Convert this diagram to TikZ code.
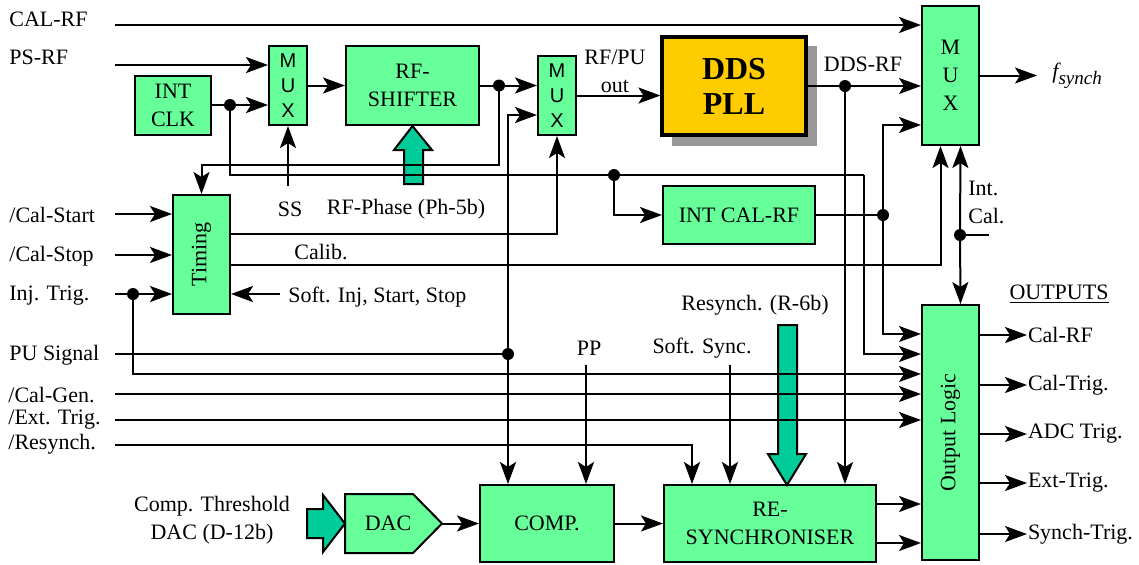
\documentclass[tikz,border=0pt]{standalone}
\usepackage{fontspec}
\setmainfont{Liberation Serif}
\setsansfont{Liberation Sans}
\usetikzlibrary{arrows.meta,calc}
\definecolor{boxgreen}{RGB}{102,255,153}
\definecolor{arrowgreen}{RGB}{0,204,153}
\definecolor{ddsgold}{RGB}{255,204,0}
\definecolor{shadowgrey}{RGB}{153,153,153}
\tikzset{
  blk/.style={draw, fill=boxgreen, line width=1pt, align=center, inner sep=0pt,
    font=\fontsize{11}{14}\selectfont},
  muxbox/.style={blk, minimum width=19pt, minimum height=39.5pt,
    font=\sffamily\fontsize{10}{12.5}\selectfont},
  sig/.style={line width=1pt, -{Stealth[length=11pt,width=8pt,inset=2.5pt]}},
  wire/.style={line width=1pt},
  dot/.style={circle, fill, inner sep=0pt, minimum size=6pt},
  lbl/.style={inner sep=0pt, align=center, font=\fontsize{11}{14}\selectfont},
  fatarrow/.style={draw, fill=arrowgreen, line width=1pt},
}
\begin{document}
\begin{tikzpicture}[x=0.5pt,y=-0.5pt]
\useasboundingbox (0,0) rectangle (1139,564);
% blocks
\fill[shadowgrey] (672,46) rectangle (817,146);
\node[blk, minimum width=38pt, minimum height=29.5pt] (intclk) at (173,105) {INT\\CLK};
\node[muxbox] (muxa) at (288,85.5) {M\\U\\X};
\node[blk, minimum width=66.5pt, minimum height=39.5pt] (shifter) at (412.5,85.5) {RF-\\SHIFTER};
\node[muxbox] (muxb) at (557,95.5) {M\\U\\X};
\node[draw, fill=ddsgold, line width=1.6pt, minimum width=72pt, minimum height=49pt,
  align=center, inner sep=0pt, font=\bfseries\fontsize{16}{17.5}\selectfont] (dds) at (734,86) {DDS\\PLL};
\node[blk, minimum width=28.5pt, minimum height=69.5pt] (muxc) at (950.5,75.5) {M\\U\\X};
\node[blk, minimum width=28.5pt, minimum height=59.5pt] (timing) at (201.5,254.5) {};
\node[lbl, rotate=90] (timinglbl) at (timing) {Timing};
\node[blk, minimum width=76pt, minimum height=29pt] (intcal) at (739,215) {INT CAL-RF};
\node[blk, minimum width=28.5pt, minimum height=127.5pt] (outlog) at (950.5,432.5) {};
\node[lbl, rotate=90] (outloglbl) at (outlog) {Output Logic};
\coordinate (dacin) at (345,523.5);
\coordinate (dacout) at (442,523.5);
\draw[blk] (dacin |- 0,494) -- (413,494) -- (dacout) -- (413,553) -- (dacin |- 0,553) -- cycle;
\node[lbl] (dac) at (388,523.5) {DAC};
\node[blk, minimum width=67pt, minimum height=38.5pt] (comp) at (547,523.5) {COMP.};
\node[blk, minimum width=106pt, minimum height=38.5pt] (resync) at (770,523.5) {RE-\\SYNCHRONISER};
% labels
\node[lbl, anchor=west] (calrf) at (9,19) {CAL-RF};
\node[lbl, anchor=west] (psrf) at (9,57) {PS-RF};
\node[lbl, anchor=west] (calstart) at (9,215) {/Cal-Start};
\node[lbl, anchor=west] (calstop) at (9,256) {/Cal-Stop};
\node[lbl, anchor=west] (injtrig) at (9,296) {Inj. Trig.};
\node[lbl, anchor=west] (pusig) at (9,355) {PU Signal};
\node[lbl, anchor=west] (calgen) at (8,395) {/Cal-Gen.};
\node[lbl, anchor=west] (exttrig) at (8,420) {/Ext. Trig.};
\node[lbl, anchor=west] (resynch) at (8,444) {/Resynch.};
\node[lbl] (thresh) at (212,520) {Comp. Threshold\\DAC (D-12b)};
\node[lbl] (ss) at (290,209) {SS};
\node[lbl] (phase) at (406,209) {RF-Phase (Ph-5b)};
\node[lbl] (calib) at (321,252) {Calib.};
\node[lbl, anchor=west] (softinj) at (288,297) {Soft. Inj, Start, Stop};
\node[lbl] (rfpu) at (615,71) {RF/PU\\out};
\node[lbl] (ddsrf) at (863,64) {DDS-RF};
\node[lbl, anchor=west] (fsynch) at (1052,75.5) {\itshape f\raisebox{-0.6ex}{\fontsize{9.5}{10}\selectfont synch}};
\node[lbl, anchor=west, align=left] (intcallbl) at (968,202) {Int.\\Cal.};
\node[lbl] (pp) at (589,348) {PP};
\node[lbl] (softsync) at (702,348) {Soft. Sync.};
\node[lbl] (resynclbl) at (755,305) {Resynch. (R-6b)};
\node[lbl] (outputs) at (1059,294) {\underline{OUTPUTS}};
% block arrows
\draw[fatarrow] (404,184) -- (404,150) -- (394,150) -- (shifter.south) -- (432,150) -- (423,150) -- (423,184) -- cycle;
\draw[fatarrow] (778,325) -- (797,325) -- (797,454) -- (806,454) -- (787,485) -- (768,454) -- (778,454) -- cycle;
\draw[fatarrow] (307,509) -- (323,509) -- (323,495) -- (dacin) -- (323,552) -- (323,538) -- (307,538) -- cycle;
% junctions
\node[dot] (j1) at (230,105) {};
\node[dot] (j2) at (614,175) {};
\node[dot] (j3) at (499,85.5) {};
\node[dot] (j4) at (508,354) {};
\node[dot] (j5) at (845,86) {};
\node[dot] (j6) at (883,215) {};
\node[dot] (j7) at (960,235) {};
\node[dot] (j8) at (133,294) {};
\coordinate (clkturn) at (864,175);
% connectors
\draw[sig] (115,25) -- (muxc.west |- 0,25);
\draw[sig] (115,65) -- (muxa.west |- 0,65);
\draw[wire] (intclk.east) -- (j1.center);
\draw[sig] (j1.center) -- (j1 -| muxa.west);
\draw[wire] (j1.center) |- (j2.center) -- (clkturn);
\draw[sig] (clkturn) |- (outlog.west |- 0,354);
\draw[sig] (j2.center) |- (intcal.west);
\draw[sig] (muxa) -- (shifter);
\draw[wire] (shifter.east) -- (j3.center);
\draw[sig] (j3.center) -- (j3 -| muxb.west);
\draw[sig] (j3.center) -- (499,165) -| (timing.north);
\draw[wire] (115,354) -- (j4.center);
\draw[sig] (j4.center) |- (muxb.west |- 0,115);
\draw[sig] (j4.center) -- (j4 |- comp.north);
\draw[sig] (muxb.east) -- (muxb.east -| dds.west);
\draw[wire] (dds.east) -- (j5.center);
\draw[sig] (j5.center) -- (j5 -| muxc.west);
\draw[sig] (j5.center) -- (j5 |- resync.north);
\draw[sig] (muxc.east) -- (1037,75.5);
\draw[wire] (intcal.east) -- (j6.center);
\draw[sig] (j6.center) |- (muxc.west |- 0,125);
\draw[sig] (j6.center) |- (outlog.west |- 0,334);
\draw[sig] (timing.east |- 0,234) -| (muxb.south);
\draw[sig] (timing.east |- 0,265) -| ($(muxc.south)+(-10,0)$);
\draw[sig] (j7.center) -- ($(muxc.south)+(10,0)$);
\draw[sig] (j7.center) -- ($(outlog.north)+(10,0)$);
\draw[wire] (j7.center) -- (989,235);
\draw[sig] (115,214) -- (timing.west |- 0,214);
\draw[sig] (115,255) -- (timing.west |- 0,255);
\draw[wire] (115,294) -- (j8.center);
\draw[sig] (j8.center) -- (j8 -| timing.west);
\draw[sig] (j8.center) |- (outlog.west |- 0,374);
\draw[sig, line width=1.4pt] (280,294) -- (timing.east |- 0,294);
\draw[sig] (288,186) -- (muxa.south);
\draw[sig] (115,394) -- (outlog.west |- 0,394);
\draw[sig] (115,420) -- (outlog.west |- 0,420);
\draw[sig] (115,445) -| ($(resync.north)+(-78,0)$);
\draw[sig] (586,365) -- (586,0 |- comp.north);
\draw[sig] (730,365) -- (730,0 |- resync.north);
\draw[sig] (dacout) -- (comp.west);
\draw[sig] (comp) -- (resync);
\draw[sig] (resync.east |- 0,504) -- (outlog.west |- 0,504);
\draw[sig] (resync.east |- 0,543) -- (outlog.west |- 0,543);
\foreach \y/\t/\n in {335/Cal-RF/1, 385/Cal-Trig./2, 434/ADC Trig./3, 483/Ext-Trig./4, 534/Synch-Trig./5}
  \draw[sig] (outlog.east |- 0,\y) -- (1027,\y) node[lbl, anchor=west] (out\n) {\t};
\end{tikzpicture}
\end{document}
